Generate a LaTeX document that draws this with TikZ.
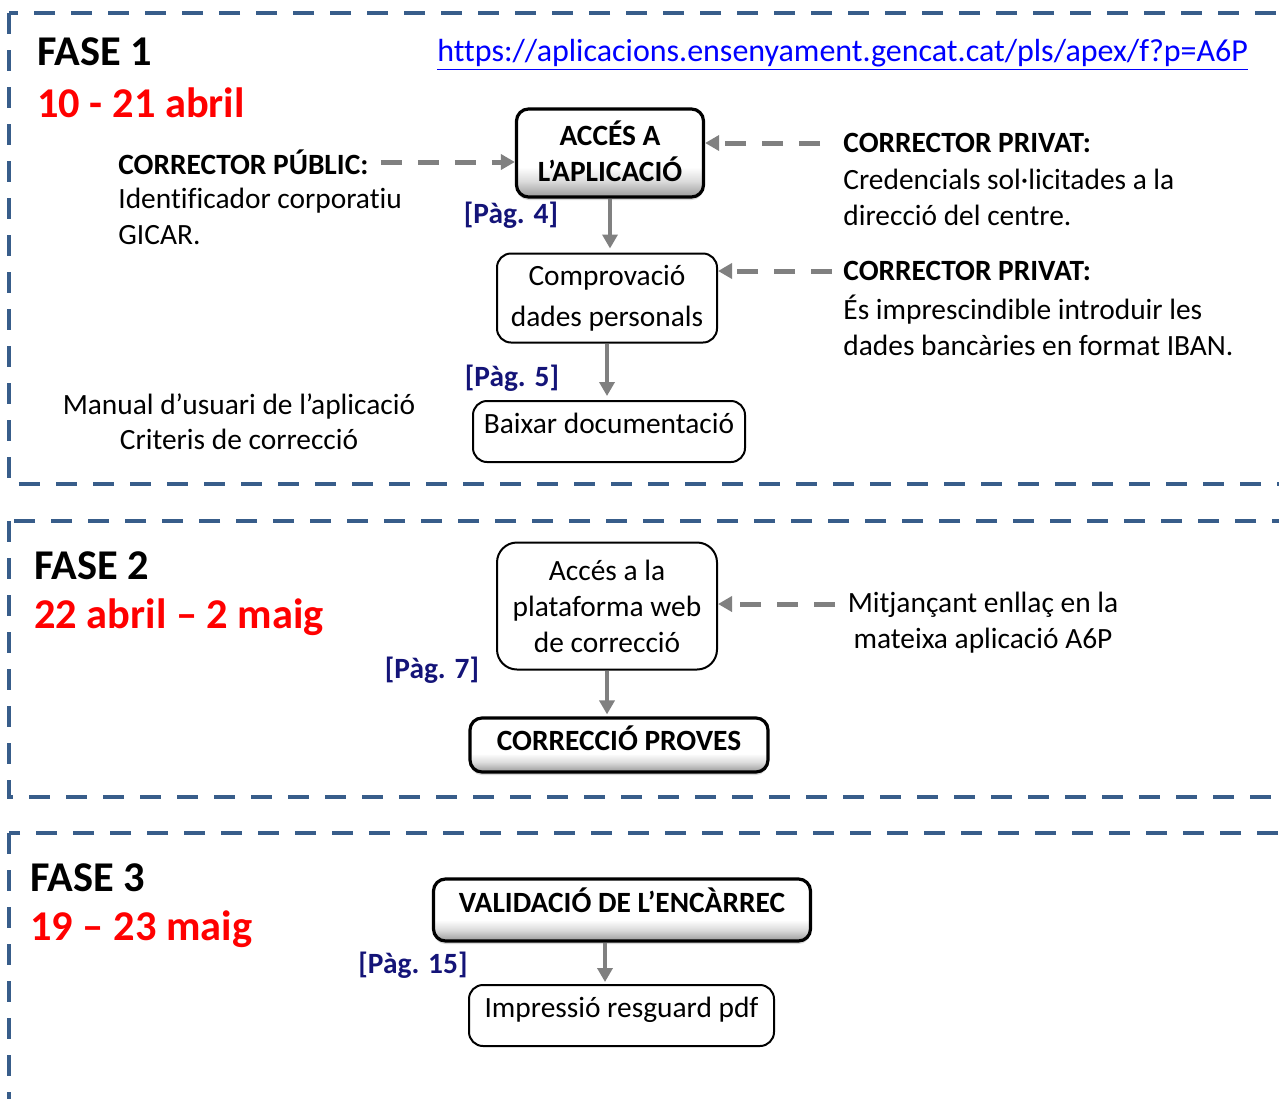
\documentclass[tikz,border=0pt]{standalone}
\usepackage{fontspec}
\setmainfont{Carlito}[Ligatures=NoCommon]
\usetikzlibrary{arrows.meta,shadows}

\definecolor{framecol}{RGB}{56,93,138}
\definecolor{pagcol}{RGB}{20,20,120}
\definecolor{arrcol}{RGB}{128,128,128}
\newcommand{\bodyfont}{\fontsize{14.7}{18}\selectfont}
\newcommand{\fasefont}{\fontsize{21.2}{24}\selectfont\bfseries}
\pgfdeclareverticalshading{boxshade}{100bp}{color(0bp)=(black!40); color(25bp)=(black!40);
  color(34bp)=(black!14); color(42bp)=(white); color(100bp)=(white)}

\tikzset{
  caixa/.style={draw, fill=white, line width=1pt, rounded corners=7pt, align=center, inner sep=2pt, font=\bodyfont},
  gruix/.style={draw, line width=1.6pt, rounded corners=6pt, align=center, inner sep=2pt,
    shading=boxshade,
    drop shadow={opacity=0.3, shadow xshift=0pt, shadow yshift=-1.5pt},
    font=\bodyfont\bfseries},
  pag/.style={text=pagcol, inner sep=0pt, font=\bodyfont\bfseries},
  fletxa/.style={draw=arrcol, line width=2pt, -{Triangle[length=7pt,width=7.5pt]}},
  discont/.style={fletxa, line width=2.5pt, dash pattern=on 10.5pt off 8pt}
}

\begin{document}
\begin{tikzpicture}[x=0.5pt,y=-0.5pt]

      \useasboundingbox (0,0) rectangle (1279,1098);

      \begin{scope}[framecol, line width=2pt, dash pattern=on 10.5pt off 8pt]
        \draw (9,13)  rectangle (1300,484);
        \draw (9,521) rectangle (1300,797);
        \draw (9,833) rectangle (1300,1120);
      \end{scope}

      \begin{scope}[every node/.style={anchor=west, inner sep=0pt, font=\fasefont}]
        \node (fase1) at (37,52)  {FASE 1};
        \node[red] (data1) at (37,103) {10 - 21 abril};
        \node (fase2) at (34,566) {FASE 2};
        \node[red] (data2) at (34,617) {22 abril – 2 maig};
        \node (fase3) at (30,878) {FASE 3};
        \node[red] (data3) at (30,929) {19 – 23 maig};
      \end{scope}

      \begin{scope}[every node/.style={inner sep=0pt, font=\bodyfont}]
        \node[anchor=west, text=blue, font=\fontsize{16}{18}\selectfont] (url) at (437,55)
          {\underline{https://aplicacions.ensenyament.gencat.cat/pls/apex/f?p=A6P}};
        \node[anchor=west, font=\bodyfont\bfseries] (publ) at (118,162) {CORRECTOR PÚBLIC:};
        \node[anchor=west, align=left] (publtxt) at (118,216) {Identificador corporatiu\\GICAR.};
        \node[anchor=west, font=\bodyfont\bfseries] (priv1) at (843,143) {CORRECTOR PRIVAT:};
        \node[anchor=west, align=left] (priv1txt) at (843,197) {Credencials sol·licitades a la\\direcció del centre.};
        \node[anchor=west, font=\bodyfont\bfseries] (priv2) at (843,271) {CORRECTOR PRIVAT:};
        \node[anchor=west, align=left] (priv2txt) at (843,325) {És imprescindible introduir les\\dades bancàries en format IBAN.};
        \node[align=center] (manual) at (239,422) {Manual d’usuari de l’aplicació\\[-0.5pt]Criteris de correcció};
        \node[align=center] (mitj) at (983,623) {Mitjançant enllaç en la\\mateixa aplicació A6P};
      \end{scope}

      \node[gruix, minimum width=93.5pt, minimum height=44pt] (acces) at (610,153) {\raisebox{2pt}{ACCÉS A}\\\raisebox{2pt}{L’APLICACIÓ}};
      \node[caixa, minimum width=110pt, minimum height=44.5pt] (compro) at (607,298) {\raisebox{-1.5pt}{Comprovació}\\[2.5pt]\raisebox{-1.5pt}{dades personals}};
      \node[caixa, minimum width=136pt, text height=14pt, text depth=12.5pt] (baixar) at (609,431.5) {Baixar documentació};
      \node[caixa, rounded corners=10pt, minimum width=110pt, minimum height=63.5pt] (plataforma) at (607,606) {Accés a la\\plataforma web\\de correcció};
      \node[gruix, minimum width=149pt, text height=14pt, text depth=9pt] (correccio) at (619,745) {CORRECCIÓ PROVES};
      \node[gruix, minimum width=188.5pt, text height=14.75pt, text depth=12.25pt] (validacio) at (622,910) {VALIDACIÓ DE L’ENCÀRREC};
      \node[caixa, minimum width=152.5pt, text height=14pt, text depth=12.5pt] (impressio) at (621.5,1015.5) {Impressió resguard pdf};

      \node[pag] (pag4)  at (511,215) {[Pàg. 4]};
      \node[pag] (pag5)  at (512,378) {[Pàg. 5]};
      \node[pag] (pag7)  at (432,670) {[Pàg. 7]};
      \node[pag] (pag15) at (413,965) {[Pàg. 15]};

      \coordinate (mitjin) at (835,604);

      \path (acces.south) edge[fletxa, shorten >=2pt] (acces.south |- compro.north);
      \path (compro.south) edge[fletxa, shorten >=2pt] (compro.south |- baixar.north);
      \path (plataforma.south) edge[fletxa, shorten >=1pt] (plataforma.south |- correccio.north);
      \path ([xshift=-8.5pt]validacio.south) edge[fletxa, shorten >=1pt] ([xshift=-8.5pt]validacio.south |- impressio.north);

      \path (publ.east) edge[discont, shorten <=6pt] (publ.east -| acces.west);
      \path (priv1.west) edge[discont, shorten <=11.5pt] (priv1.west -| acces.east);
      \path (priv2.west) edge[discont, shorten <=5.5pt] (priv2.west -| compro.east);
      \path (mitjin) edge[discont] (mitjin -| plataforma.east);

    \end{tikzpicture}
\end{document}
